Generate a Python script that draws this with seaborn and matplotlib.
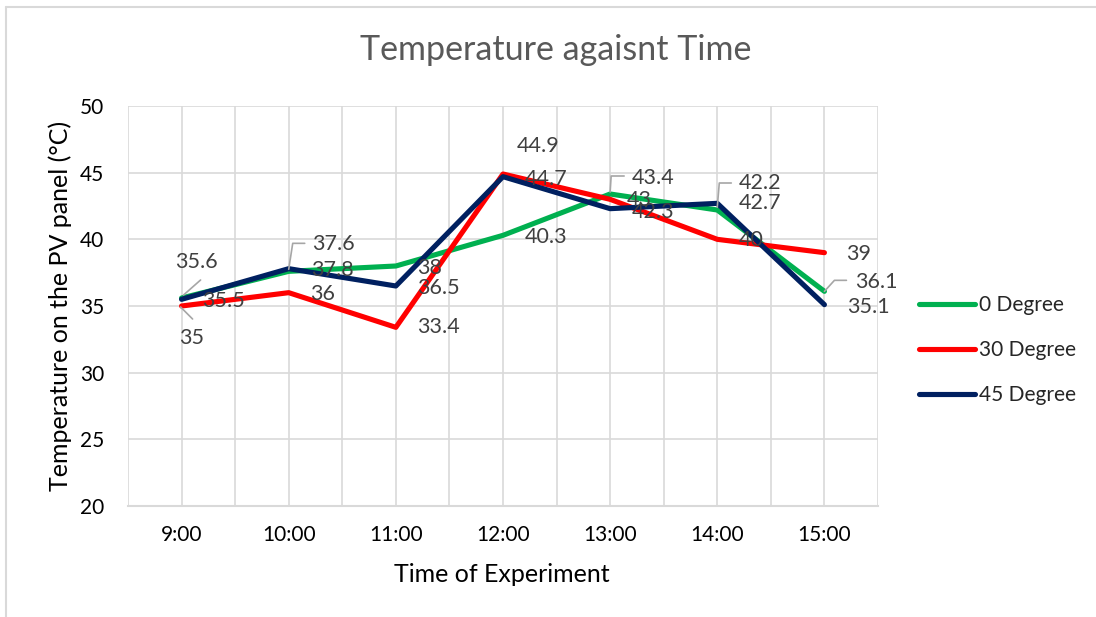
import numpy as np
import pandas as pd
import seaborn as sns
import matplotlib
matplotlib.use("Agg")
import matplotlib.pyplot as plt
import matplotlib.transforms as mtransforms
from matplotlib.lines import Line2D

# ---- data ----
times = ["9:00", "10:00", "11:00", "12:00", "13:00", "14:00", "15:00"]
series_names = ["0 Degree", "30 Degree", "45 Degree"]
deg0 = [35.6, 37.6, 38, 40.3, 43.4, 42.2, 36.1]
deg30 = [35, 36, 33.4, 44.9, 43, 40, 39]
deg45 = [35.5, 37.8, 36.5, 44.7, 42.3, 42.7, 35.1]
y_ticks = [20, 25, 30, 35, 40, 45, 50]

title = "Temperature agaisnt Time"
xlabel = "Time of Experiment"
ylabel = "Temperature on the PV panel (°C)"

colors = {"0 Degree": "#00B050", "30 Degree": "#FF0000", "45 Degree": "#002060"}

# label offsets in pixels (dx, dy) relative to the data point
off0 = [(15, 36), (45, 27), (34, -2), (43, -2), (43, 16), (43, 27), (52, 9)]
off30 = [(10, -32), (34, -1), (43, 0), (35, 28), (29, -1), (34, -1), (34, -1)]
off45 = [(42, -2), (44, -1), (43, -2), (43, -2), (43, -3), (43, 0), (44, -2)]

# leader lines (pixel offsets polyline) keyed by (series index, point index)
leaders = {
    (0, 0): [(2, 3), (19, 18)],
    (1, 0): [(-1, -1), (11, -13)],
    (0, 1): [(0, 2), (4, 28), (16, 28)],
    (0, 4): [(0, 2), (1, 18), (14, 18)],
    (0, 5): [(0, 3), (2, 27), (14, 27)],
    (0, 6): [(0, 0), (10, 11), (22, 11)],
}

df = pd.DataFrame({
    "Time": times * 3,
    "Temperature": deg0 + deg30 + deg45,
    "Series": [series_names[0]] * 7 + [series_names[1]] * 7 + [series_names[2]] * 7,
})

sns.set_theme(style="white")
plt.rcParams["font.family"] = ["Lato", "DejaVu Sans"]

W, H = 1096, 617
fig = plt.figure(figsize=(W / 100, H / 100), dpi=100)
ax = fig.add_axes([128 / W, 1 - 506 / H, 750 / W, 400 / H])

sns.lineplot(data=df, x="Time", y="Temperature", hue="Series", palette=colors,
             linewidth=3.7, sort=False, ax=ax, legend=False, zorder=3)
for ln in ax.get_lines():
    ln.set_solid_joinstyle("round")
    ln.set_solid_capstyle("round")

ax.set_xlim(-0.5, len(times) - 0.5)
ax.set_ylim(20, 50)
ax.set_yticks(y_ticks)
ax.set_xticks(range(len(times)))
ax.set_xticklabels(times)
ax.set_xticks(np.arange(-0.5, len(times), 1.0), minor=True)

grid_c = "#D9D9D9"
ax.grid(True, which="major", axis="both", color=grid_c, linewidth=1.2)
ax.grid(True, which="minor", axis="x", color=grid_c, linewidth=1.2)
ax.set_axisbelow(True)
for s in ["top", "right", "left"]:
    ax.spines[s].set_visible(False)
ax.spines["bottom"].set_color(grid_c)
ax.spines["bottom"].set_linewidth(1.5)

ax.tick_params(axis="both", which="both", length=0, labelsize=15, colors="#000000")
ax.tick_params(axis="y", pad=17)
ax.tick_params(axis="x", pad=14)

ax.set_xlabel(xlabel, fontsize=18, color="#000000", va="center", ha="center")
ax.xaxis.set_label_coords((502 - 128) / 750, (506 - 575) / 400)
ax.set_ylabel(ylabel, fontsize=18, color="#000000", va="center", ha="center")
ax.yaxis.set_label_coords((60 - 128) / 750, 0.5)
fig.text(556 / W, 1 - 50 / H, title, fontsize=24.5, color="#595959", ha="center", va="center")

label_c = "#404040"
all_vals = [deg0, deg30, deg45]
all_offs = [off0, off30, off45]
for si, (vals, offs) in enumerate(zip(all_vals, all_offs)):
    for i, (v, (dx, dy)) in enumerate(zip(vals, offs)):
        ax.annotate(f"{v:g}", xy=(i, v), xytext=(dx, dy), textcoords="offset pixels",
                    ha="center", va="center", fontsize=15.5, color=label_c, zorder=5)
        if (si, i) in leaders:
            pts = np.array(leaders[(si, i)], dtype=float)
            tr = mtransforms.ScaledTranslation(i, v, ax.transData)
            ax.add_line(Line2D(pts[:, 0], pts[:, 1], transform=tr, color="#A6A6A6",
                               linewidth=1.2, zorder=4))

handles = [Line2D([0], [0], color=colors[n], linewidth=3.7, solid_capstyle="round") for n in series_names]
fig.legend(handles, series_names, loc="center left", bbox_to_anchor=(909 / W, 1 - 350 / H),
           frameon=False, fontsize=15, handlelength=2.65, handletextpad=0.2, labelspacing=1.2,
           borderpad=0)

# outer border (top and left visible)
fig.add_artist(Line2D([6 / W, 1], [1 - 7 / H, 1 - 7 / H], transform=fig.transFigure, color=grid_c, linewidth=1.5))
fig.add_artist(Line2D([6 / W, 6 / W], [0, 1 - 7 / H], transform=fig.transFigure, color=grid_c, linewidth=1.5))

fig.savefig("out.png", dpi=100)
